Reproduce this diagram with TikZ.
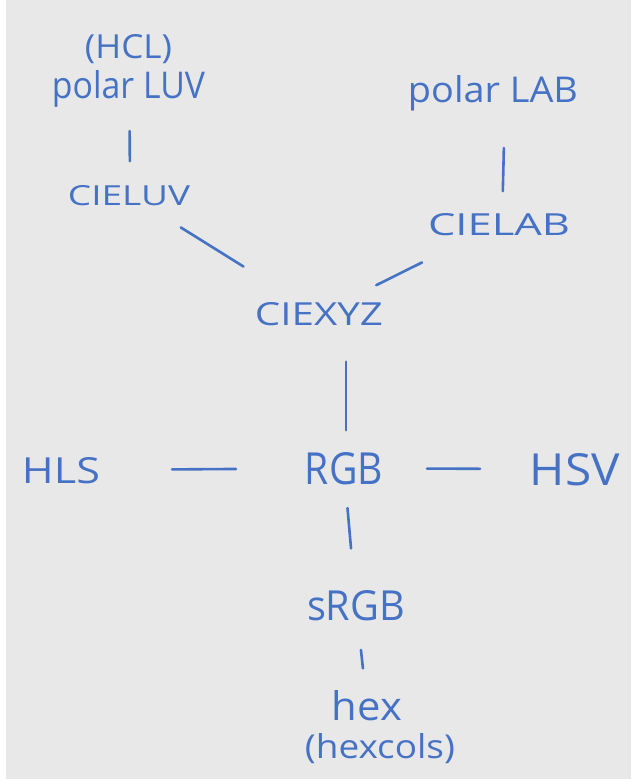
\documentclass[tikz,border=0pt]{standalone}
\usepackage{fontspec}
\setmainfont{Open Sans}
\usepackage{graphicx}
\definecolor{paper}{RGB}{232,232,232}
\definecolor{ink}{RGB}{70,114,198}
\newcommand{\hw}[3]{\resizebox{#1pt}{#2pt}{#3}}
\tikzset{
  lbl/.style={inner sep=0pt, anchor=base, text=ink},
  link/.style={draw=ink, line width=2.6pt, line cap=round}
}
\begin{document}
\begin{tikzpicture}[x=1pt,y=-1pt]
\fill[white] (0,0) rectangle (637,779);
\fill[paper] (6,0) rectangle (631,779);
\useasboundingbox (0,0) rectangle (637,779);

\node[lbl] (hcl) at (128.5,58) {\hw{87}{24}{(HCL)}};
\node[lbl] (pluv) at (128.5,98) {\hw{153}{28}{polar LUV}};
\node[lbl] (plab) at (493,102) {\hw{170}{27}{polar LAB}};
\node[lbl] (luv) at (129,205) {\hw{122}{20}{CIELUV}};
\node[lbl] (lab) at (499,235) {\hw{142}{22}{CIELAB}};
\node[lbl] (xyz) at (319,325) {\hw{128}{23}{CIEXYZ}};
\node[lbl] (hls) at (61,483) {\hw{78}{26}{HLS}};
\node[lbl] (rgb) at (344,484) {\hw{78}{32}{RGB}};
\node[lbl] (hsv) at (575,485) {\hw{90}{32}{HSV}};
\node[lbl] (srgb) at (356,620) {\hw{98}{30}{sRGB}};
\node[lbl] (hex) at (367,720) {\hw{70}{30}{hex}};
\node[lbl] (hexcols) at (380,758) {\hw{150}{25}{(hexcols)}};

\draw[link, shorten <=33pt, shorten >=34pt] ([xshift=1pt]pluv.base) -- ([xshift=1pt]luv.center);
\draw[link, shorten <=46pt, shorten >=33pt] ([xshift=12pt]plab.base) -- ([xshift=3pt]lab.center);
\draw[link, shorten <=61pt, shorten >=89pt] (luv.center) -- (xyz.center);
\draw[link, shorten <=86pt, shorten >=64pt] (lab.center) -- (xyz.center);
\draw[link, shorten <=48pt, shorten >=38pt] ([xshift=2pt]xyz.center -| rgb.center) -- ([xshift=2pt]rgb.center);
\draw[link, shorten <=111pt, shorten >=108pt] (hls.center) -- (rgb.center);
\draw[link, shorten <=83pt, shorten >=95pt] (rgb.center) -- (hsv.center);
\draw[link, shorten <=40pt, shorten >=57pt] (rgb.center) -- (srgb.center);
\draw[link, shorten <=45pt, shorten >=37pt] (srgb.center) -- (hex.center);
\end{tikzpicture}
\end{document}
